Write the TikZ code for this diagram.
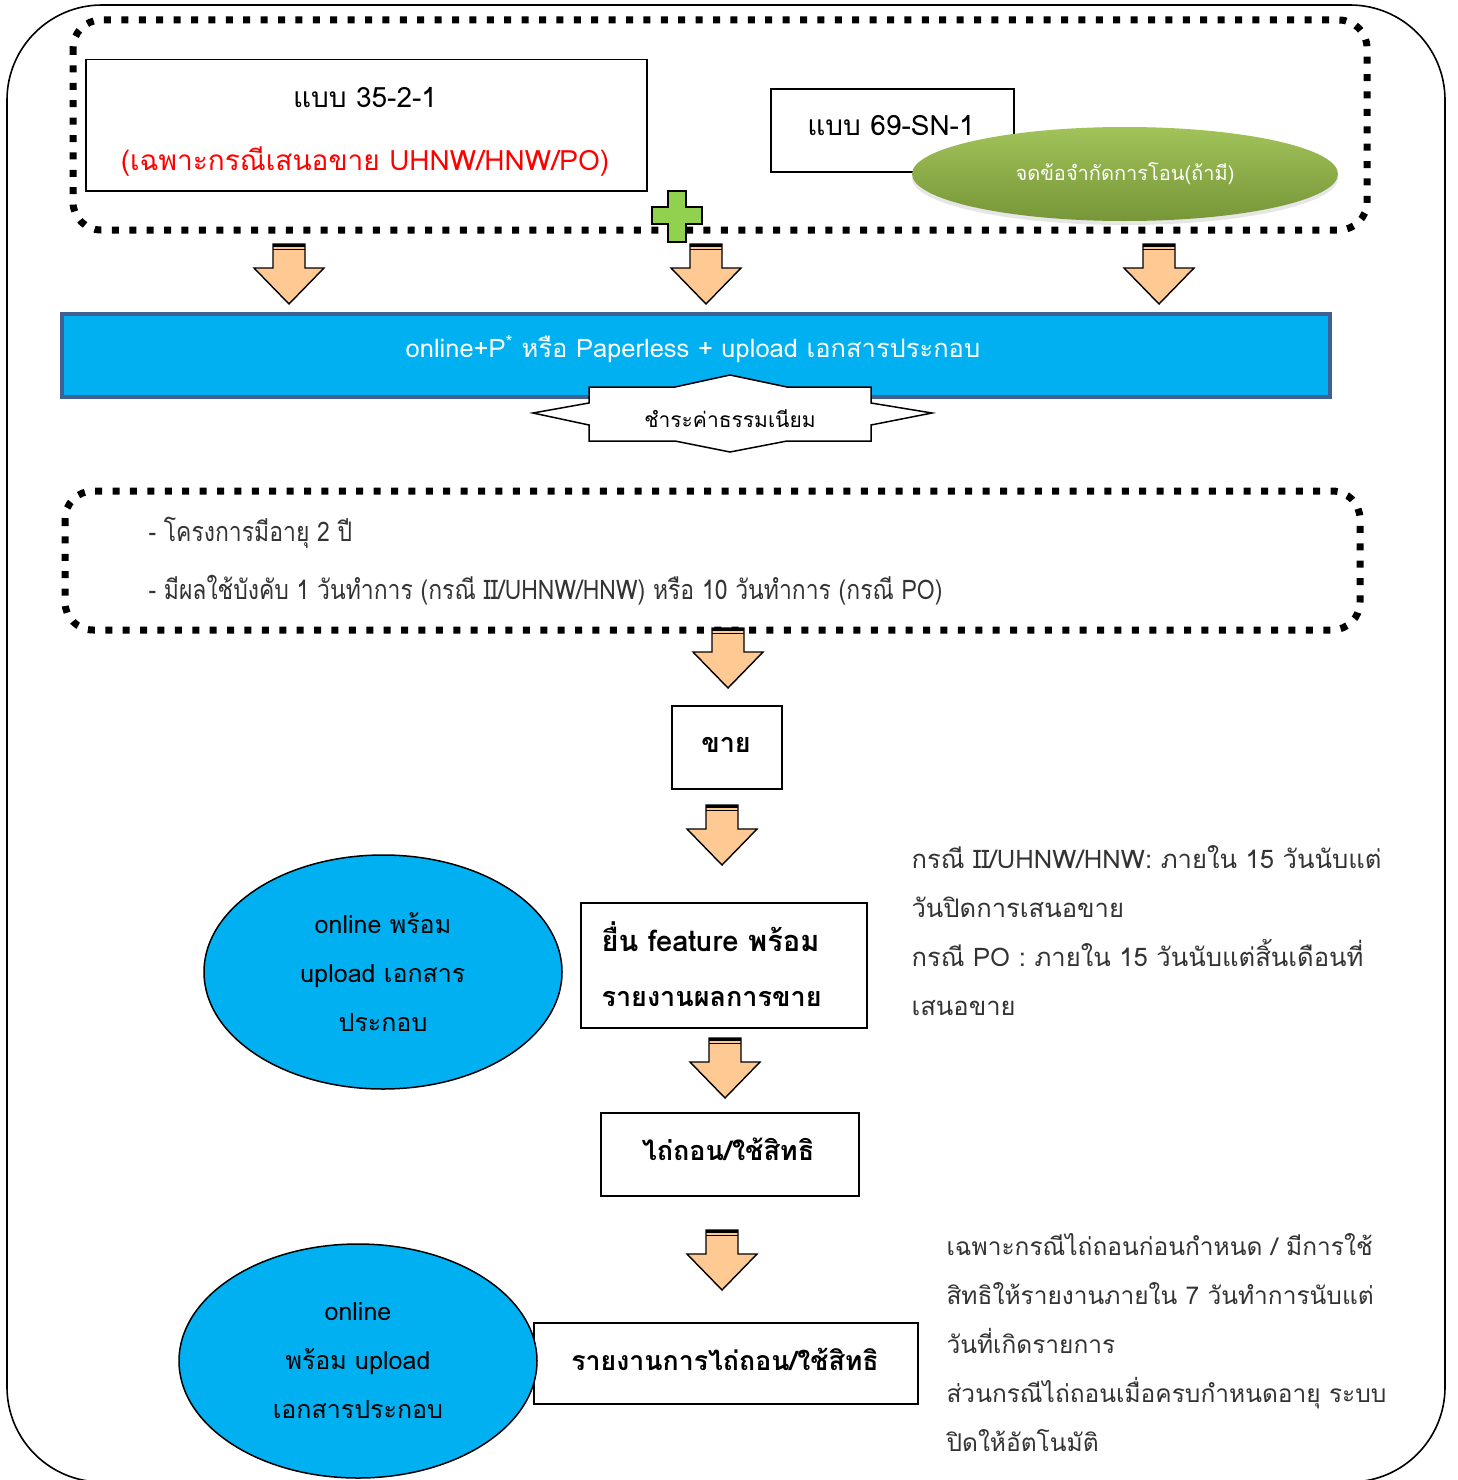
\documentclass[tikz,border=0pt]{standalone}
\usepackage{fontspec}
\setmainfont[Script=Thai]{Loma}
\newfontfamily\thainarrow[Script=Thai,FakeStretch=0.85]{Loma}
\usetikzlibrary{shapes.geometric,shadows}
\definecolor{arrfill}{HTML}{FFC993}
\definecolor{cyanbar}{HTML}{00B0F0}
\definecolor{barborder}{HTML}{3F6090}
\definecolor{plusgreen}{HTML}{92D050}
\definecolor{gtop}{HTML}{A2C25A}
\definecolor{gbot}{HTML}{769638}
\definecolor{txtgray}{HTML}{333333}
\newcommand\fsz[2]{\fontsize{#1}{#2}\selectfont}
\tikzset{
  box/.style={draw=black, line width=1.5pt, fill=white, inner sep=0pt, anchor=north west},
  dotbox/.style={draw=black, line width=7pt, dash pattern=on 7pt off 10.4pt, rounded corners=28pt},
  blueell/.style={ellipse, draw=black, line width=1.5pt, fill=cyanbar, inner sep=0pt,
     minimum width=358pt, minimum height=234pt, align=center},
  barrow/.pic={
    \draw[line width=1.4pt, fill=arrfill, line join=miter]
      (-16,0) -- (16,0) -- (16,24) -- (35,24) -- (0,60) -- (-35,24) -- (-16,24) -- cycle;
    \fill[black] (-16,0) rectangle (16,3);
    \draw[line width=1pt] (-16,5.5) -- (16,5.5);
  }
}
\begin{document}
\begin{tikzpicture}[x=1pt,y=-1pt]
\useasboundingbox (0,0) rectangle (1457,1480);
% outer frame
\draw[line width=1.6pt, rounded corners=95pt] (7,5) rectangle (1445,1482);

% top dotted group
\draw[dotbox] (73,20) rectangle (1367,230);
\node[box, minimum width=561pt, minimum height=131pt] (f35) at (85,59) {};
\node[align=center, font=\fsz{28}{63}] (f35t) at (365,132) {แบบ 35-2-1\\\textcolor{red}{(เฉพาะกรณีเสนอขาย UHNW/HNW/PO)}};
\node[box, minimum width=243pt, minimum height=83pt] (f69) at (770,88) {};
\node[font=\fsz{28}{34}] (f69t) at (891,126) {แบบ 69-SN-1};
\node[ellipse, minimum width=426pt, minimum height=94pt, inner sep=0pt,
      top color=gtop, bottom color=gbot, draw=none,
      drop shadow={opacity=0.2, shadow xshift=0pt, shadow yshift=-4pt},
      text=white, font=\fsz{20}{24}] (lim) at (1125,174) {จดข้อจำกัดการโอน(ถ้ามี)};
\draw[line width=1.5pt, fill=plusgreen] (668,191) -- (686,191) -- (686,207) -- (702,207) -- (702,224)
  -- (686,224) -- (686,242) -- (668,242) -- (668,224) -- (652,224) -- (652,207) -- (668,207) -- cycle;

% arrows to blue bar
\pic at (289,244) {barrow};
\pic at (706,244) {barrow};
\pic at (1159,244) {barrow};

% blue bar
\node[draw=barborder, line width=4pt, fill=cyanbar, minimum width=1268pt, minimum height=83pt,
      inner sep=0pt, anchor=north west] (bar) at (60,312) {};
\node[text=white, font=\fsz{25.5}{30}] (bart) at (693,349) {online+P\textsuperscript{*} หรือ Paperless + upload เอกสารประกอบ};

% fee star
\draw[line width=1.5pt, fill=white, line join=miter] (589,387) -- (675,387) -- (730,375) -- (787,387) -- (871,387)
  -- (871,403) -- (932,413) -- (871,425) -- (871,441) -- (787,441) -- (730,452) -- (675,441)
  -- (589,441) -- (589,425) -- (533,413) -- (589,403) -- cycle;
\node[font=\fsz{21}{25}] (fee) at (730,419) {ชำระค่าธรรมเนียม};

% second dotted group
\draw[dotbox] (65,491) rectangle (1360,630);
\node[anchor=west, text=txtgray, font=\thainarrow\fsz{27}{30}] (l1) at (145,533) {- โครงการมีอายุ 2 ปี};
\node[anchor=west, text=txtgray, font=\thainarrow\fsz{27}{30}] (l2) at (145,590) {- มีผลใช้บังคับ 1 วันทำการ (กรณี II/UHNW/HNW) หรือ 10 วันทำการ (กรณี PO)};

\pic at (728,628) {barrow};
\node[box, minimum width=110pt, minimum height=83pt] (sell) at (671,705) {};
\node[font=\bfseries\fsz{27}{32}] (sellt) at (726,745) {ขาย};

\pic at (722,805) {barrow};
\node[box, minimum width=286pt, minimum height=125pt] (feat) at (580,902) {};
\node[anchor=north west, align=left, font=\bfseries\fsz{27}{55}] (featt) at (598,918) {\fontsize{29}{55}\selectfont ยื่น feature พร้อม\\รายงานผลการขาย};

\node[blueell, font=\fsz{25}{49}] (e1) at (383,972) {online พร้อม\\upload เอกสาร\\ประกอบ};

\node[anchor=north west, align=left, text=txtgray, font=\fsz{25.6}{49}] (note1) at (908,842)
  {กรณี II/UHNW/HNW: ภายใน 15 วันนับแต่\\วันปิดการเสนอขาย\\กรณี PO : ภายใน 15 วันนับแต่สิ้นเดือนที่\\เสนอขาย};

\pic at (725,1038) {barrow};
\node[box, minimum width=258pt, minimum height=83pt] (red) at (600,1112) {};
\node[font=\bfseries\fsz{27}{34}] (redt) at (728,1149) {ไถ่ถอน/ใช้สิทธิ};

\pic at (722,1230) {barrow};
\node[box, minimum width=384pt, minimum height=81pt] (rep) at (533,1322) {};
\node[font=\bfseries\fsz{26.7}{34}] (rept) at (725,1359) {รายงานการไถ่ถอน/ใช้สิทธิ};

\node[blueell, font=\fsz{25}{49}] (e2) at (358,1361) {online\\พร้อม upload\\เอกสารประกอบ};

\node[anchor=north west, align=left, text=txtgray, font=\fsz{24.5}{49}] (note2) at (943,1230)
  {เฉพาะกรณีไถ่ถอนก่อนกำหนด / มีการใช้\\สิทธิให้รายงานภายใน 7 วันทำการนับแต่\\วันที่เกิดรายการ\\ส่วนกรณีไถ่ถอนเมื่อครบกำหนดอายุ ระบบ\\ปิดให้อัตโนมัติ};
\end{tikzpicture}
\end{document}
